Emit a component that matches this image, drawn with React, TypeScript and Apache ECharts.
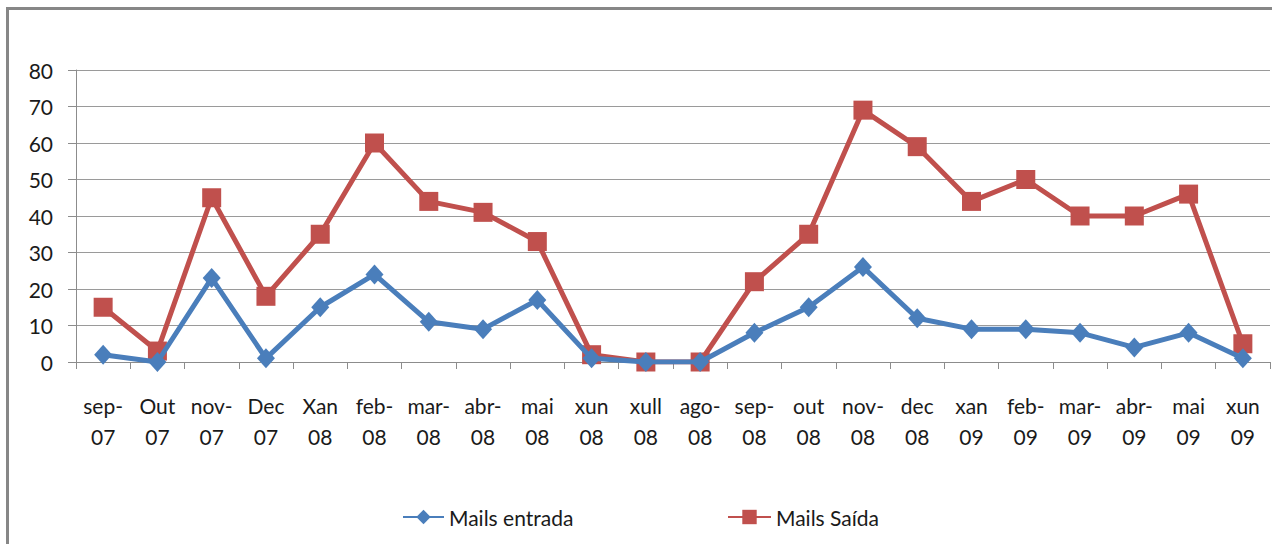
import React, { useEffect, useRef } from "react";
import * as echarts from "echarts";

const categories = [
  "sep-07", "Out 07", "nov-07", "Dec 07", "Xan 08", "feb-08", "mar-08", "abr-08",
  "mai 08", "xun 08", "xull 08", "ago-08", "sep-08", "out 08", "nov-08", "dec 08",
  "xan 09", "feb-09", "mar-09", "abr-09", "mai 09", "xun 09",
];
const mailsEntrada = [2, 0, 23, 1, 15, 24, 11, 9, 17, 1, 0, 0, 8, 15, 26, 12, 9, 9, 8, 4, 8, 1];
const mailsSaida = [15, 3, 45, 18, 35, 60, 44, 41, 33, 2, 0, 0, 22, 35, 69, 59, 44, 50, 40, 40, 46, 5];
const seriesNames = ["Mails entrada", "Mails Saída"];

const FONT = "Lato, 'Noto Sans', sans-serif";
const BLUE = "#4a7ebb";
const RED = "#c0504d";

export default function App() {
  const ref = useRef<HTMLDivElement>(null);
  useEffect(() => {
    document.body.style.margin = "0";
    const chart = echarts.init(ref.current!, null, { renderer: "svg" });
    chart.setOption({
      animation: false,
      backgroundColor: "#ffffff",
      textStyle: { fontFamily: FONT },
      graphic: [
        {
          type: "rect",
          shape: { x: 7.5, y: 8.5, width: 1500, height: 800 },
          style: { fill: "none", stroke: "#878787", lineWidth: 3 },
          silent: true,
        },
      ],
      grid: { left: 76, right: 2, top: 70, bottom: 182, containLabel: false },
      legend: [
        {
          data: [seriesNames[0]],
          left: 402,
          top: 506,
          padding: 0,
          itemWidth: 41,
          itemHeight: 18,
          itemGap: 0,
          textStyle: { fontFamily: FONT, fontSize: 21, lineHeight: 22, color: "#1a1a1a" },
        },
        {
          data: [seriesNames[1]],
          left: 727,
          top: 506,
          padding: 0,
          itemWidth: 43,
          itemHeight: 18,
          itemGap: 0,
          textStyle: { fontFamily: FONT, fontSize: 21, lineHeight: 22, color: "#1a1a1a" },
        },
      ],
      xAxis: {
        type: "category",
        data: categories,
        boundaryGap: true,
        axisLine: { show: true, lineStyle: { color: "#8c8c8c", width: 1 } },
        axisTick: { show: true, length: 7, interval: 0, lineStyle: { color: "#8c8c8c" } },
        axisLabel: {
          interval: 0,
          margin: 28,
          fontSize: 21,
          lineHeight: 31,
          color: "#1a1a1a",
          fontFamily: FONT,
          formatter: (v: string) => v.replace("-", "-\n").replace(" ", "\n"),
        },
      },
      yAxis: {
        type: "value",
        min: 0,
        max: 80,
        interval: 10,
        axisLine: { show: true, lineStyle: { color: "#8c8c8c", width: 1 } },
        axisTick: { show: true, length: 8, lineStyle: { color: "#8c8c8c" } },
        splitLine: { show: true, lineStyle: { color: "#9a9a9a", width: 1 } },
        axisLabel: { margin: 23, fontSize: 21, color: "#1a1a1a", fontFamily: FONT },
      },
      series: [
        {
          name: seriesNames[0],
          type: "line",
          data: mailsEntrada,
          symbol: "diamond",
          symbolSize: [18, 20],
          showAllSymbol: true,
          lineStyle: { color: BLUE, width: 5 },
          itemStyle: { color: BLUE },
          z: 3,
        },
        {
          name: seriesNames[1],
          type: "line",
          data: mailsSaida,
          symbol: "rect",
          symbolSize: 19,
          showAllSymbol: true,
          lineStyle: { color: RED, width: 5 },
          itemStyle: { color: RED },
          z: 2,
        },
      ],
    });
    return () => chart.dispose();
  }, []);
  return <div ref={ref} style={{ width: 1272, height: 544 }} />;
}
